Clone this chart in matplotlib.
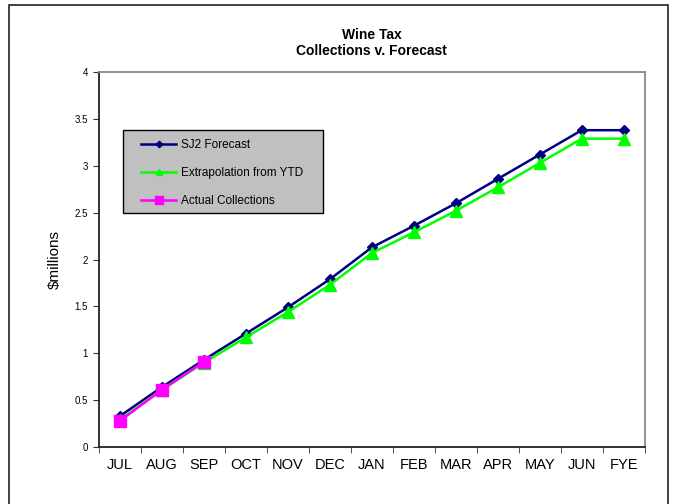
import matplotlib
matplotlib.use("Agg")
import matplotlib.pyplot as plt
from matplotlib.patches import Rectangle

months = ["JUL", "AUG", "SEP", "OCT", "NOV", "DEC", "JAN", "FEB", "MAR",
          "APR", "MAY", "JUN", "FYE"]
sj2_forecast = [0.33, 0.64, 0.93, 1.21, 1.49, 1.79, 2.13, 2.36, 2.60,
                2.86, 3.12, 3.38, 3.38]
extrapolation = [0.29, 0.61, 0.90, 1.17, 1.44, 1.73, 2.07, 2.29, 2.52,
                 2.77, 3.03, 3.29, 3.29]
actual = [0.28, 0.61, 0.91]

plt.rcParams["font.family"] = ["Liberation Sans", "DejaVu Sans"]

fig = plt.figure(figsize=(6.73, 5.04), dpi=100)
ax = fig.add_axes([0.147, 0.113, 0.811, 0.744])

# outer chart frame
fig.patches.append(Rectangle((9 / 673, -0.01), 659 / 673, 1 - 5 / 504 + 0.01,
                             transform=fig.transFigure, fill=False,
                             edgecolor="#222222", lw=1.2))

x = list(range(len(months)))
ax.plot(x, sj2_forecast, color="#000080", lw=1.8, marker="D", ms=5.5,
        label="SJ2 Forecast")
ax.plot(x, extrapolation, color="#00FF00", lw=1.8, marker="^", ms=8,
        label="Extrapolation from YTD")
ax.plot(x[:len(actual)], actual, color="#FF00FF", lw=1.8, marker="s", ms=9,
        label="Actual Collections")

ax.set_xlim(-0.5, len(months) - 0.5)
ax.set_ylim(0, 4)
ax.set_yticks([0, 0.5, 1, 1.5, 2, 2.5, 3, 3.5, 4])
ax.set_yticklabels(["0", "0.5", "1", "1.5", "2", "2.5", "3", "3.5", "4"],
                   fontsize=7)
ax.set_xticks(x)
ax.set_xticklabels(months, fontsize=10.5)
ax.set_xticks([i - 0.5 for i in range(len(months) + 1)], minor=True)
ax.tick_params(axis="x", which="major", length=0, pad=8)
ax.tick_params(axis="x", which="minor", length=4, direction="out", color="#333333")
ax.tick_params(axis="y", length=4, direction="out", pad=4, color="#333333")

ax.spines["left"].set_color("#222222")
ax.spines["bottom"].set_color("#222222")
ax.spines["top"].set_color("#888888")
ax.spines["right"].set_color("#888888")
for s in ax.spines.values():
    s.set_linewidth(1.3)

ax.set_ylabel("$millions", fontsize=11, labelpad=9)
ax.set_title("Wine Tax\nCollections v. Forecast", fontsize=10,
             fontweight="bold", pad=12)

# grey legend box (drawn separately so the padding matches the original)
ax.add_patch(Rectangle((0.044, 0.624), 0.366, 0.221, transform=ax.transAxes,
                       facecolor="#C0C0C0", edgecolor="#000000", lw=1.0,
                       zorder=4))
leg = ax.legend(loc="upper left", bbox_to_anchor=(0.077, 0.822),
                borderaxespad=0, fontsize=8.5, frameon=False,
                handlelength=3.0, labelspacing=1.35, borderpad=0,
                markerscale=0.6, handletextpad=0.4)
leg.set_zorder(5)

fig.savefig("out.png", dpi=100)
